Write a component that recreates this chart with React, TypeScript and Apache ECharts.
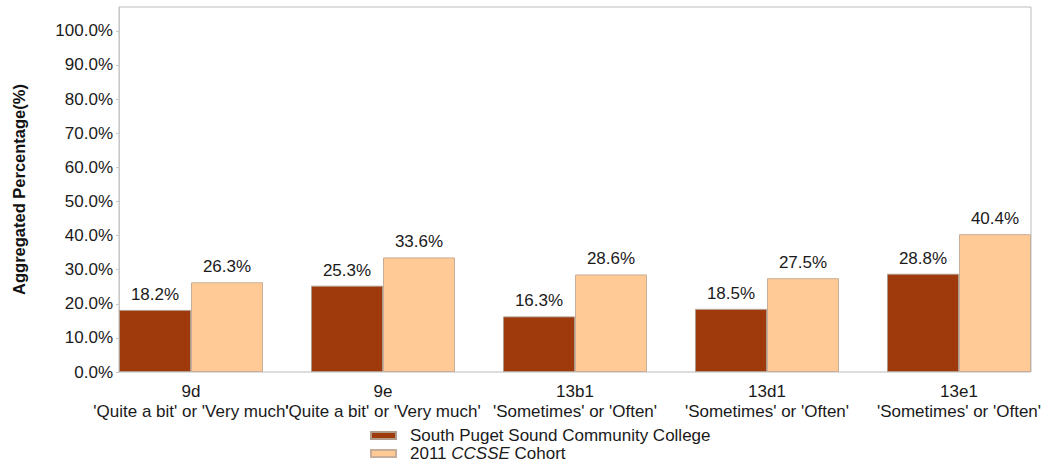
import React, { useEffect, useRef } from "react";
import * as echarts from "echarts";

const categories = [
  "9d\n'Quite a bit' or 'Very much'",
  "9e\n'Quite a bit' or 'Very much'",
  "13b1\n'Sometimes' or 'Often'",
  "13d1\n'Sometimes' or 'Often'",
  "13e1\n'Sometimes' or 'Often'",
];
const collegeName = "South Puget Sound Community College";
const cohortName = "2011 CCSSE Cohort";
const collegeValues = [18.2, 25.3, 16.3, 18.5, 28.8];
const cohortValues = [26.3, 33.6, 28.6, 27.5, 40.4];

const FONT = "'Liberation Sans', Arial, sans-serif";

export default function App() {
  const ref = useRef<HTMLDivElement>(null);
  useEffect(() => {
    if (!ref.current) return;
    const chart = echarts.init(ref.current, null, { renderer: "svg" });
    const pct = (v: number) => v.toFixed(1) + "%";
    const labelCfg = {
      show: true,
      position: "top",
      distance: 7,
      fontSize: 17,
      color: "#1a1a1a",
      fontFamily: FONT,
      formatter: (p: any) => pct(p.value),
    };
    chart.setOption({
      animation: false,
      textStyle: { fontFamily: FONT },
      grid: [
        {
          left: 95,
          top: 7,
          width: 960,
          height: 365,
          show: false,
          containLabel: false,
          outerBoundsMode: "none",
        },
        {
          left: 119,
          top: 7,
          width: 912,
          height: 365,
          show: true,
          borderColor: "#bcbcbc",
          borderWidth: 1,
          backgroundColor: "transparent",
          containLabel: false,
          outerBoundsMode: "none",
        },
      ],
      xAxis: [
        {
          type: "category",
          gridIndex: 0,
          data: categories,
          axisLine: { show: false },
          axisTick: { show: false },
          axisLabel: {
            interval: 0,
            fontSize: 17,
            lineHeight: 20,
            color: "#1a1a1a",
            margin: 9,
            fontFamily: FONT,
          },
        },
        { type: "value", gridIndex: 1, show: false },
      ],
      yAxis: [
        { type: "value", gridIndex: 0, min: 0, max: 107, show: false },
        {
          type: "value",
          gridIndex: 1,
          min: 0,
          max: 107,
          interval: 10,
          name: "Aggregated Percentage(%)",
          nameLocation: "middle",
          nameGap: 92,
          nameTextStyle: {
            fontSize: 16.5,
            fontWeight: "bold",
            color: "#111",
            fontFamily: FONT,
          },
          axisLine: { show: true, lineStyle: { color: "#c8c8c8" } },
          axisTick: { show: true, length: 3, lineStyle: { color: "#c8c8c8" } },
          splitLine: { show: false },
          axisLabel: {
            showMaxLabel: false,
            fontSize: 17,
            color: "#1a1a1a",
            margin: 6,
            fontFamily: FONT,
            formatter: (v: number) => (v > 100 ? "" : pct(v)),
          },
        },
      ],
      legend: {
        orient: "vertical",
        left: 370,
        top: 427,
        padding: 0,
        itemWidth: 25,
        itemHeight: 7,
        itemGap: 1,
        icon: "rect",
        data: [collegeName, cohortName],
        formatter: (name: string) =>
          name === cohortName ? "2011 {i|CCSSE} Cohort" : name,
        textStyle: {
          fontSize: 17,
          color: "#1a1a1a",
          fontFamily: FONT,
          padding: [0, 0, 0, 9],
          rich: {
            i: { fontStyle: "italic", fontSize: 17, color: "#1a1a1a", fontFamily: FONT },
          },
        },
      },
      series: [
        {
          name: collegeName,
          type: "bar",
          xAxisIndex: 0,
          yAxisIndex: 0,
          data: collegeValues,
          barWidth: 72,
          barGap: "0%",
          itemStyle: { color: "#9e3a0c", borderColor: "#b09a8a", borderWidth: 1 },
          label: labelCfg,
        },
        {
          name: cohortName,
          type: "bar",
          xAxisIndex: 0,
          yAxisIndex: 0,
          data: cohortValues,
          barWidth: 72,
          barGap: "0%",
          itemStyle: { color: "#ffca96", borderColor: "#c8ae98", borderWidth: 1 },
          label: labelCfg,
        },
      ],
    });
    return () => chart.dispose();
  }, []);
  return (
    <div
      ref={ref}
      style={{ position: "absolute", left: 0, top: 0, width: 1047, height: 465 }}
    />
  );
}
